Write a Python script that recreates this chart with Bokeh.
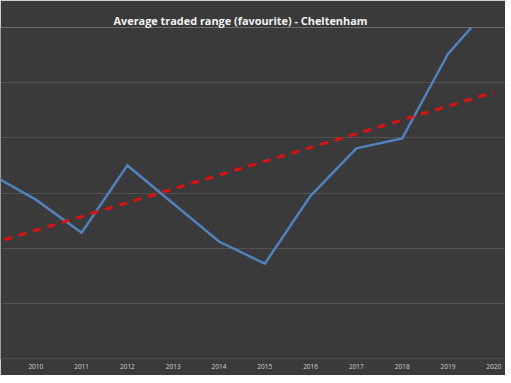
from bokeh.plotting import figure
from bokeh.embed import file_html
from bokeh.resources import INLINE
from bokeh.models import Range1d, FixedTicker, Title
import numpy as np

# Data
years = [2009, 2010, 2011, 2012, 2013, 2014, 2015, 2016, 2017, 2018, 2019, 2020]
avg_range = [33.5, 28.8, 22.8, 35.0, 28.1, 21.2, 17.2, 29.5, 38.1, 39.9, 55.2, 64.6]
tick_years = [2010, 2011, 2012, 2013, 2014, 2015, 2016, 2017, 2018, 2019, 2020]
y_grid = [0, 10, 20, 30, 40, 50, 60]

# Linear trend (least squares) over the series
slope, intercept = np.polyfit(years, avg_range, 1)
trend_x = [years[0], years[-1]]
trend_y = [slope * x + intercept for x in trend_x]

BG = "#3a3a3a"

p = figure(width=505, height=375, output_backend="svg", toolbar_location=None,
           x_range=Range1d(2009.229, 2020.256), y_range=Range1d(0, 60),
           y_axis_location=None, title=None,
           min_border_left=0, min_border_right=0, min_border_top=27, min_border_bottom=17)

t = Title(text="Average traded range (favourite) - Cheltenham", align="left", offset=113,
          text_font="Open Sans", text_font_size="10.9px", text_font_style="bold",
          text_color="#f2f2f2", standoff=0, vertical_align="bottom",
          padding=(0, 0, 10, 0))
p.add_layout(t, "above")

p.background_fill_color = BG
p.border_fill_color = BG
p.outline_line_color = None

p.xgrid.grid_line_color = None
p.ygrid.ticker = FixedTicker(ticks=y_grid)
p.ygrid.grid_line_color = "#525252"
p.ygrid.grid_line_width = 1

p.xaxis.ticker = FixedTicker(ticks=tick_years)
p.xaxis.major_tick_in = 0
p.xaxis.major_tick_out = 0
p.xaxis.minor_tick_line_color = None
p.xaxis.axis_line_color = "#525252"
p.xaxis.major_label_text_font = "Open Sans"
p.xaxis.major_label_text_font_size = "6.5px"
p.xaxis.major_label_text_color = "#d0d0d0"
p.xaxis.major_label_standoff = 5

p.line(years, avg_range, line_color="#4f81bd", line_width=2.5, line_join="miter")
p.line(trend_x, trend_y, line_color="#e01010", line_width=3, line_dash="8 7")

open("out.html", "w").write(file_html(p, INLINE))
